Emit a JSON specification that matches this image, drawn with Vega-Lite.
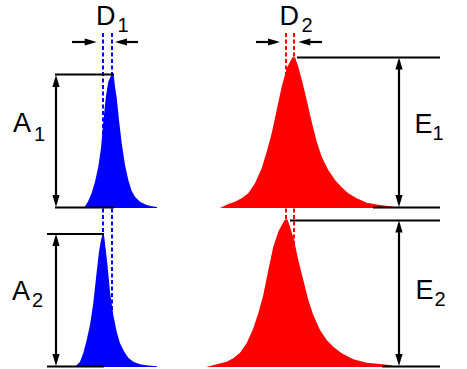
{
  "$schema": "https://vega.github.io/schema/vega-lite/v6.json",
  "width": 467,
  "height": 369,
  "padding": 0,
  "autosize": {"type": "none"},
  "background": "white",
  "config": {"view": {"stroke": null}},
  "datasets": {
    "peaks": [
      {"g": "b1", "x": 84, "y": 208, "base": 208},
      {"g": "b1", "x": 88, "y": 201.5, "base": 208},
      {"g": "b1", "x": 91.7, "y": 193, "base": 208},
      {"g": "b1", "x": 95, "y": 181.7, "base": 208},
      {"g": "b1", "x": 98.3, "y": 166.7, "base": 208},
      {"g": "b1", "x": 101, "y": 148, "base": 208},
      {"g": "b1", "x": 103.3, "y": 121.7, "base": 208},
      {"g": "b1", "x": 105.7, "y": 98, "base": 208},
      {"g": "b1", "x": 108.3, "y": 81.7, "base": 208},
      {"g": "b1", "x": 111, "y": 75.7, "base": 208},
      {"g": "b1", "x": 112, "y": 75, "base": 208},
      {"g": "b1", "x": 113.7, "y": 75, "base": 208},
      {"g": "b1", "x": 115, "y": 86.7, "base": 208},
      {"g": "b1", "x": 116.7, "y": 97.7, "base": 208},
      {"g": "b1", "x": 119, "y": 120, "base": 208},
      {"g": "b1", "x": 121.7, "y": 143, "base": 208},
      {"g": "b1", "x": 125, "y": 165, "base": 208},
      {"g": "b1", "x": 128.3, "y": 180, "base": 208},
      {"g": "b1", "x": 131.7, "y": 191, "base": 208},
      {"g": "b1", "x": 135, "y": 196.7, "base": 208},
      {"g": "b1", "x": 140, "y": 201.7, "base": 208},
      {"g": "b1", "x": 146.7, "y": 205, "base": 208},
      {"g": "b1", "x": 152, "y": 206.3, "base": 208},
      {"g": "b1", "x": 157, "y": 207, "base": 208},
      {"g": "b2", "x": 75, "y": 367, "base": 367},
      {"g": "b2", "x": 80, "y": 361.7, "base": 367},
      {"g": "b2", "x": 83.3, "y": 353, "base": 367},
      {"g": "b2", "x": 86.7, "y": 340, "base": 367},
      {"g": "b2", "x": 90, "y": 325, "base": 367},
      {"g": "b2", "x": 93.3, "y": 303, "base": 367},
      {"g": "b2", "x": 96.7, "y": 271.7, "base": 367},
      {"g": "b2", "x": 99, "y": 251.7, "base": 367},
      {"g": "b2", "x": 101, "y": 240, "base": 367},
      {"g": "b2", "x": 102.7, "y": 234.3, "base": 367},
      {"g": "b2", "x": 104, "y": 235, "base": 367},
      {"g": "b2", "x": 105, "y": 243.3, "base": 367},
      {"g": "b2", "x": 107.3, "y": 263.3, "base": 367},
      {"g": "b2", "x": 110, "y": 291.7, "base": 367},
      {"g": "b2", "x": 113.3, "y": 315, "base": 367},
      {"g": "b2", "x": 116.7, "y": 331.7, "base": 367},
      {"g": "b2", "x": 120, "y": 343.3, "base": 367},
      {"g": "b2", "x": 124.3, "y": 351.7, "base": 367},
      {"g": "b2", "x": 128.3, "y": 357.7, "base": 367},
      {"g": "b2", "x": 133.3, "y": 361.7, "base": 367},
      {"g": "b2", "x": 140, "y": 364.3, "base": 367},
      {"g": "b2", "x": 148, "y": 365.6, "base": 367},
      {"g": "b2", "x": 157, "y": 366.2, "base": 367},
      {"g": "r1", "x": 220, "y": 208, "base": 208},
      {"g": "r1", "x": 228.3, "y": 204, "base": 208},
      {"g": "r1", "x": 235, "y": 201.7, "base": 208},
      {"g": "r1", "x": 241.7, "y": 198.3, "base": 208},
      {"g": "r1", "x": 248.3, "y": 193.3, "base": 208},
      {"g": "r1", "x": 255, "y": 183.3, "base": 208},
      {"g": "r1", "x": 261.7, "y": 168.3, "base": 208},
      {"g": "r1", "x": 266.7, "y": 151.7, "base": 208},
      {"g": "r1", "x": 271.7, "y": 133.3, "base": 208},
      {"g": "r1", "x": 276.7, "y": 110, "base": 208},
      {"g": "r1", "x": 281.7, "y": 86.7, "base": 208},
      {"g": "r1", "x": 286.7, "y": 68.3, "base": 208},
      {"g": "r1", "x": 291, "y": 60, "base": 208},
      {"g": "r1", "x": 292.5, "y": 57.3, "base": 208},
      {"g": "r1", "x": 295, "y": 57.3, "base": 208},
      {"g": "r1", "x": 298.3, "y": 66.7, "base": 208},
      {"g": "r1", "x": 302.3, "y": 81.7, "base": 208},
      {"g": "r1", "x": 306.7, "y": 100, "base": 208},
      {"g": "r1", "x": 311.7, "y": 121.7, "base": 208},
      {"g": "r1", "x": 316.7, "y": 141.7, "base": 208},
      {"g": "r1", "x": 321.7, "y": 156.7, "base": 208},
      {"g": "r1", "x": 328.3, "y": 170, "base": 208},
      {"g": "r1", "x": 335, "y": 180, "base": 208},
      {"g": "r1", "x": 341.7, "y": 187.3, "base": 208},
      {"g": "r1", "x": 348.3, "y": 193.3, "base": 208},
      {"g": "r1", "x": 356.7, "y": 198.3, "base": 208},
      {"g": "r1", "x": 366.7, "y": 202.7, "base": 208},
      {"g": "r1", "x": 378.3, "y": 204.7, "base": 208},
      {"g": "r1", "x": 393.3, "y": 206.7, "base": 208},
      {"g": "r2", "x": 206, "y": 367, "base": 367},
      {"g": "r2", "x": 216.7, "y": 364.3, "base": 367},
      {"g": "r2", "x": 226.7, "y": 361.7, "base": 367},
      {"g": "r2", "x": 233.3, "y": 358.3, "base": 367},
      {"g": "r2", "x": 240, "y": 352.7, "base": 367},
      {"g": "r2", "x": 246.7, "y": 343.3, "base": 367},
      {"g": "r2", "x": 253.3, "y": 328.3, "base": 367},
      {"g": "r2", "x": 258.3, "y": 313.3, "base": 367},
      {"g": "r2", "x": 263.3, "y": 295, "base": 367},
      {"g": "r2", "x": 268.3, "y": 270, "base": 367},
      {"g": "r2", "x": 273.3, "y": 246.7, "base": 367},
      {"g": "r2", "x": 278.3, "y": 231.7, "base": 367},
      {"g": "r2", "x": 282.7, "y": 223.3, "base": 367},
      {"g": "r2", "x": 285, "y": 219.5, "base": 367},
      {"g": "r2", "x": 287.5, "y": 219.5, "base": 367},
      {"g": "r2", "x": 290, "y": 226.7, "base": 367},
      {"g": "r2", "x": 294, "y": 240, "base": 367},
      {"g": "r2", "x": 298.3, "y": 260, "base": 367},
      {"g": "r2", "x": 303.3, "y": 280, "base": 367},
      {"g": "r2", "x": 308.3, "y": 300, "base": 367},
      {"g": "r2", "x": 313.3, "y": 315, "base": 367},
      {"g": "r2", "x": 320, "y": 330, "base": 367},
      {"g": "r2", "x": 326.7, "y": 340, "base": 367},
      {"g": "r2", "x": 333.3, "y": 346.7, "base": 367},
      {"g": "r2", "x": 341.7, "y": 353.3, "base": 367},
      {"g": "r2", "x": 353.3, "y": 359.3, "base": 367},
      {"g": "r2", "x": 366.7, "y": 362.7, "base": 367},
      {"g": "r2", "x": 380, "y": 364, "base": 367},
      {"g": "r2", "x": 391.7, "y": 365.3, "base": 367}
    ],
    "dashes": [
      {"c": "blue", "x": 103, "y": 33, "y2": 367},
      {"c": "blue", "x": 112, "y": 33, "y2": 367},
      {"c": "red", "x": 286, "y": 33, "y2": 367},
      {"c": "red", "x": 294, "y": 33, "y2": 367}
    ],
    "rules": [
      {"x": 55, "x2": 114, "y": 74.5, "y2": 74.5},
      {"x": 55, "x2": 114, "y": 207.5, "y2": 207.5},
      {"x": 56, "x2": 56, "y": 80, "y2": 202},
      {"x": 47, "x2": 104, "y": 234, "y2": 234},
      {"x": 47, "x2": 104, "y": 366.5, "y2": 366.5},
      {"x": 56, "x2": 56, "y": 239, "y2": 361},
      {"x": 72, "x2": 92, "y": 42, "y2": 42},
      {"x": 119, "x2": 138, "y": 42, "y2": 42},
      {"x": 256, "x2": 276, "y": 42, "y2": 42},
      {"x": 302, "x2": 322, "y": 42, "y2": 42},
      {"x": 297, "x2": 440, "y": 57.5, "y2": 57.5},
      {"x": 373, "x2": 440, "y": 207.5, "y2": 207.5},
      {"x": 399, "x2": 399, "y": 62, "y2": 202},
      {"x": 290, "x2": 440, "y": 220.5, "y2": 220.5},
      {"x": 382, "x2": 440, "y": 366.5, "y2": 366.5},
      {"x": 399, "x2": 399, "y": 225, "y2": 361}
    ],
    "heads": [
      {"d": "up", "x": 56, "y": 81},
      {"d": "down", "x": 56, "y": 201},
      {"d": "up", "x": 56, "y": 240},
      {"d": "down", "x": 56, "y": 360},
      {"d": "up", "x": 399, "y": 63.5},
      {"d": "down", "x": 399, "y": 201},
      {"d": "up", "x": 399, "y": 226.5},
      {"d": "down", "x": 399, "y": 360},
      {"d": "right", "x": 90.7, "y": 42},
      {"d": "left", "x": 121, "y": 42},
      {"d": "right", "x": 274, "y": 42},
      {"d": "left", "x": 304.3, "y": 42}
    ],
    "letters": [
      {"t": "A", "x": 13, "y": 132},
      {"t": "A", "x": 12, "y": 300},
      {"t": "D", "x": 96, "y": 25},
      {"t": "D", "x": 279.5, "y": 25},
      {"t": "E", "x": 414.5, "y": 133},
      {"t": "E", "x": 415.5, "y": 299}
    ],
    "subs": [
      {"t": "1", "x": 34, "y": 141},
      {"t": "2", "x": 32, "y": 306.5},
      {"t": "1", "x": 117.5, "y": 32},
      {"t": "2", "x": 301.5, "y": 31.5},
      {"t": "1", "x": 432.5, "y": 139.5},
      {"t": "2", "x": 434.5, "y": 306}
    ]
  },
  "encoding": {
    "x": {"field": "x", "type": "quantitative", "scale": {"domain": [0, 467], "nice": false, "zero": false}, "axis": null},
    "y": {"field": "y", "type": "quantitative", "scale": {"domain": [369, 0], "nice": false, "zero": false}, "axis": null}
  },
  "layer": [
    {
      "data": {"name": "peaks"},
      "mark": {"type": "area", "interpolate": "linear", "opacity": 1},
      "encoding": {
        "y2": {"field": "base"},
        "color": {"field": "g", "type": "nominal", "scale": {"domain": ["b1", "b2", "r1", "r2"], "range": ["#0000ff", "#0000ff", "#ff0000", "#ff0000"]}, "legend": null}
      }
    },
    {
      "data": {"name": "dashes"},
      "mark": {"type": "rule", "strokeWidth": 2, "strokeDash": [4, 2.5]},
      "encoding": {
        "y2": {"field": "y2"},
        "stroke": {"field": "c", "type": "nominal", "scale": {"domain": ["blue", "red"], "range": ["#0000ff", "#ff0000"]}, "legend": null}
      }
    },
    {
      "data": {"name": "rules"},
      "mark": {"type": "rule", "strokeWidth": 2.2, "color": "black"},
      "encoding": {
        "x2": {"field": "x2"},
        "y2": {"field": "y2"}
      }
    },
    {
      "data": {"name": "heads"},
      "mark": {"type": "point", "filled": true, "color": "black", "size": 144, "opacity": 1, "strokeWidth": 0},
      "encoding": {
        "shape": {"field": "d", "type": "nominal", "scale": {"domain": ["up", "down", "right", "left"], "range": ["M0,-1L0.6,1L-0.6,1Z", "M0,1L0.6,-1L-0.6,-1Z", "M1,0L-1,0.6L-1,-0.6Z", "M-1,0L1,0.6L1,-0.6Z"]}, "legend": null}
      }
    },
    {
      "data": {"name": "letters"},
      "mark": {"type": "text", "font": "Liberation Sans", "fontSize": 27, "align": "left", "baseline": "alphabetic", "color": "black"},
      "encoding": {"text": {"field": "t"}}
    },
    {
      "data": {"name": "subs"},
      "mark": {"type": "text", "font": "Liberation Sans", "fontSize": 20, "align": "left", "baseline": "alphabetic", "color": "black"},
      "encoding": {"text": {"field": "t"}}
    }
  ]
}
